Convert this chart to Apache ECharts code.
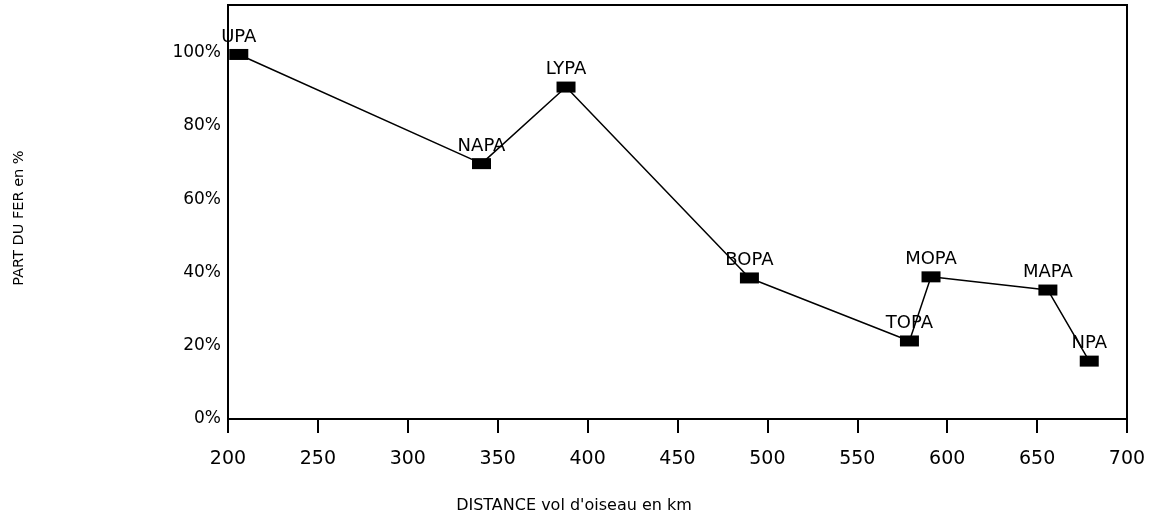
<!DOCTYPE html>
<html>
<head>
<meta charset="utf-8">
<script src="https://cdn.jsdelivr.net/npm/echarts@6/dist/echarts.min.js"></script>
<style>
  html, body { margin: 0; padding: 0; background: #fff; }
  #chart { width: 1156px; height: 517px; }
</style>
</head>
<body>
<div id="chart"></div>
<script>
// points
var names = ['UPA', 'NAPA', 'LYPA', 'BOPA', 'TOPA', 'MOPA', 'MAPA', 'NPA'];
var distances = [206, 341, 388, 490, 579, 591, 656, 679];
var shares = [99.5, 69.7, 90.6, 38.5, 21.3, 38.8, 35.2, 15.8];

var FONT = 'DejaVu Sans';

var chart = echarts.init(document.getElementById('chart'), null, { renderer: 'canvas' });

var points = [];
for (var i = 0; i < names.length; i++) {
  points.push({ value: [distances[i], shares[i]], name: names[i] });
}

var option = {
  animation: false,
  backgroundColor: '#fff',
  grid: {
    left: 228,
    right: 29,
    top: 5,
    bottom: 98,
    show: true,
    borderColor: '#000',
    borderWidth: 2,
    backgroundColor: 'transparent'
  },
  xAxis: {
    type: 'value',
    min: 200,
    max: 700,
    interval: 50,
    axisLine: { show: true, lineStyle: { color: '#000', width: 2 } },
    axisTick: { show: true, length: 14, lineStyle: { color: '#000', width: 2 } },
    axisLabel: { margin: 31, color: '#000', fontFamily: FONT, fontSize: 19 },
    splitLine: { show: false }
  },
  yAxis: {
    type: 'value',
    min: 0,
    max: 113,
    interval: 20,
    axisLine: { show: true, lineStyle: { color: '#000', width: 2 } },
    axisTick: { show: false },
    axisLabel: {
      margin: 7,
      color: '#000',
      fontFamily: FONT,
      fontSize: 17,
      formatter: function (v) {
        return v % 20 === 0 ? v + '%' : '';
      }
    },
    splitLine: { show: false }
  },
  graphic: [
    {
      type: 'text',
      x: 574,
      y: 506,
      style: {
        text: "DISTANCE vol d'oiseau en km",
        fill: '#000',
        font: '16px "DejaVu Sans"',
        align: 'center',
        verticalAlign: 'middle'
      }
    },
    {
      type: 'text',
      x: 19,
      y: 218,
      rotation: Math.PI / 2,
      style: {
        text: 'PART DU FER en %',
        fill: '#000',
        font: '14.5px "DejaVu Sans"',
        align: 'center',
        verticalAlign: 'middle'
      }
    }
  ],
  series: [
    {
      type: 'line',
      data: points,
      symbol: 'rect',
      symbolSize: [19, 11],
      itemStyle: { color: '#000' },
      lineStyle: { color: '#000', width: 1.5 },
      label: {
        show: true,
        position: 'top',
        distance: 3,
        color: '#000',
        fontFamily: FONT,
        fontSize: 18,
        formatter: function (p) { return p.name; }
      }
    }
  ]
};

chart.setOption(option);
</script>
</body>
</html>
